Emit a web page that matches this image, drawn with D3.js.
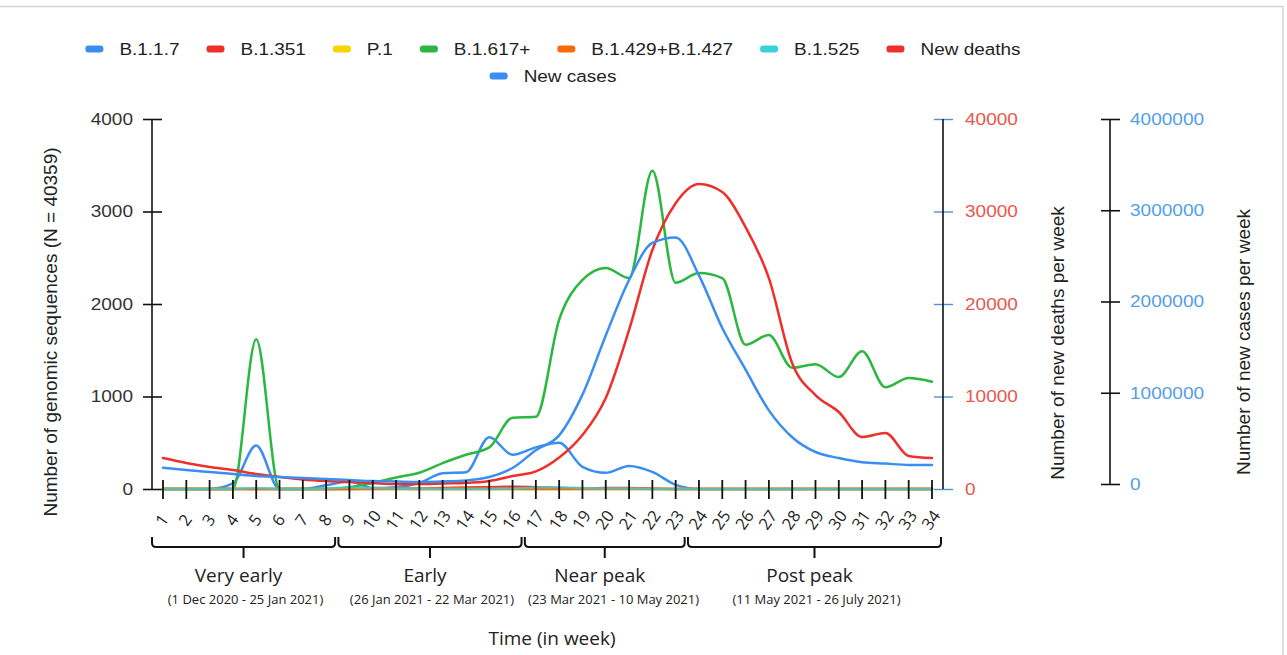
<!DOCTYPE html>
<html>
<head>
<meta charset="utf-8">
<script src="https://cdn.jsdelivr.net/npm/d3@7"></script>
<style>
  html, body { margin: 0; padding: 0; background: #fff; }
  svg { display: block; }
</style>
</head>
<body>
<svg id="chart" width="1287" height="655"></svg>
<script>
// ---------------- DATA ----------------
const weeks = [1,2,3,4,5,6,7,8,9,10,11,12,13,14,15,16,17,18,19,20,21,22,23,24,25,26,27,28,29,30,31,32,33,34];
const seriesNames = ["B.1.1.7","B.1.351","P.1","B.1.617+","B.1.429+B.1.427","B.1.525","New deaths","New cases"];
const seriesColors = ["#3a8ef0","#ef2f2a","#f7d500","#2cb840","#f86a08","#38d3da","#ef2f2a","#3a8ef0"];

const b117    = [0,0,0,60,470,0,0,40,80,10,20,65,170,180,560,370,450,500,240,175,250,185,45,0,0,0,0,0,0,0,0,0,0,0];
const b1351   = [0,0,0,0,0,0,0,0,0,5,5,5,10,15,20,25,20,10,5,10,10,5,0,0,0,0,0,0,0,0,0,0,0,0];
const p1      = [0,0,0,0,0,0,0,0,0,0,0,0,0,0,0,0,0,0,0,0,0,0,0,0,0,0,0,0,0,0,0,0,0,0];
const b1617   = [0,0,0,0,1620,0,0,0,20,65,125,175,280,370,450,770,780,1830,2260,2390,2280,3440,2230,2335,2280,1560,1665,1310,1350,1210,1490,1100,1200,1160];
const b1429   = [0,0,0,0,0,0,0,0,0,0,0,0,0,0,0,0,0,0,0,0,0,0,0,0,0,0,0,0,0,0,0,0,0,0];
const b1525   = [0,0,0,0,10,0,0,5,15,10,5,0,0,0,0,5,15,20,10,5,5,0,0,0,0,0,0,0,0,0,0,0,0,0];
const newDeaths = [3350,2810,2380,2050,1620,1300,1030,860,760,650,540,540,600,650,860,1400,1900,3400,5840,9840,17190,25840,30900,32970,32100,28300,22800,13600,10160,8320,5620,6050,3570,3350];
const newCases  = [230000,205000,184000,162000,140000,130000,119000,108000,97000,86000,81000,76000,81000,92000,130000,227000,420000,580000,1020000,1660000,2260000,2660000,2720000,2310000,1740000,1290000,850000,560000,400000,335000,290000,275000,260000,260000];

const seqTicks = [0,1000,2000,3000,4000];
const deathTicks = [0,10000,20000,30000,40000];
const caseTicks = [0,1000000,2000000,3000000,4000000];

const periodNames = ["Very early","Early","Near peak","Post peak"];
const periodDates = ["(1 Dec 2020 - 25 Jan 2021)","(26 Jan 2021 - 22 Mar 2021)","(23 Mar 2021 - 10 May 2021)","(11 May 2021 - 26 July 2021)"];
const periodStart = [1,9,17,24];
const periodEnd   = [8,16,23,34];

const leftTitle = "Number of genomic sequences (N = 40359)";
const deathTitle = "Number of new deaths per week";
const caseTitle = "Number of new cases per week";
const xTitle = "Time (in week)";

// ---------------- SETUP ----------------
const SX = 1.12;
const FA = "'Liberation Sans', Arial, sans-serif";
const FS = "'Open Sans', 'Noto Sans', sans-serif";
const svg = d3.select("#chart");

svg.append("rect").attr("x",-1).attr("y",6.5).attr("width",1284).attr("height",660)
  .attr("fill","none").attr("stroke","#d4d4d4").attr("stroke-width",1.5);

const x = d3.scaleLinear().domain([1,34]).range([163,932]);
const ySeq = d3.scaleLinear().domain([0,4000]).range([489,119]);
const yDeaths = d3.scaleLinear().domain([0,40000]).range([489,119]);
const yCases = d3.scaleLinear().domain([0,4000000]).range([489,119]);
const yCasesAxis = d3.scaleLinear().domain([0,4000000]).range([484,119]);

// ---------------- AXES ----------------
const gL = svg.append("g").attr("transform","translate(152,0)")
  .call(d3.axisLeft(ySeq).tickValues(seqTicks).tickFormat(d3.format("d")));
gL.select(".domain").remove();
gL.append("line").attr("y1",ySeq(0)).attr("y2",ySeq(4000)).attr("stroke","#111").attr("stroke-width",1.6);
gL.selectAll(".tick line").attr("x1",-9).attr("x2",10).attr("stroke","#111").attr("stroke-width",1.6);
gL.selectAll(".tick text").attr("x",-19/SX).attr("transform",`scale(${SX},1)`)
  .attr("font-family",FA).attr("font-size",17).attr("fill","#333");

const gD = svg.append("g").attr("transform","translate(943,0)")
  .call(d3.axisRight(yDeaths).tickValues(deathTicks).tickFormat(d3.format("d")));
gD.select(".domain").remove();
gD.append("line").attr("y1",yDeaths(0)).attr("y2",yDeaths(40000)).attr("stroke","#111").attr("stroke-width",1.6);
gD.selectAll(".tick line").attr("x1",-9).attr("x2",10).attr("stroke","#4a92dc").attr("stroke-width",1.4);
gD.selectAll(".tick text").attr("x",22/SX).attr("transform",`scale(${SX},1)`)
  .attr("font-family",FA).attr("font-size",17).attr("fill","#e9574c");

const gC = svg.append("g").attr("transform","translate(1110,0)")
  .call(d3.axisRight(yCasesAxis).tickValues(caseTicks).tickFormat(d3.format("d")));
gC.select(".domain").remove();
gC.append("line").attr("y1",yCasesAxis(0)).attr("y2",yCasesAxis(4000000)).attr("stroke","#111").attr("stroke-width",1.6);
gC.selectAll(".tick line").attr("x1",-9).attr("x2",10).attr("stroke","#111").attr("stroke-width",1.6);
gC.selectAll(".tick text").attr("x",20/SX).attr("transform",`scale(${SX},1)`)
  .attr("font-family",FA).attr("font-size",17).attr("fill","#539fe4");

function vtitle(cx, cy, str) {
  svg.append("text").attr("transform",`translate(${cx},${cy}) rotate(-90)`)
    .attr("text-anchor","middle").attr("dy","0.35em")
    .attr("font-family",FA).attr("font-size",19).attr("fill","#222").text(str);
}
vtitle(50, 332, leftTitle);
vtitle(1057, 343, deathTitle);
vtitle(1243, 342, caseTitle);

// ---------------- LINES ----------------
const seqSeries = [b117, b1351, p1, b1617, b1429, b1525];
const lineSeq = d3.line().x((d,i)=>x(weeks[i])).y(d=>ySeq(d)).curve(d3.curveMonotoneX);
const lineDeaths = d3.line().x((d,i)=>x(weeks[i])).y(d=>yDeaths(d)).curve(d3.curveMonotoneX);
const lineCases = d3.line().x((d,i)=>x(weeks[i])).y(d=>yCases(d)).curve(d3.curveMonotoneX);

const gLines = svg.append("g").attr("fill","none").attr("stroke-width",2.5)
  .attr("stroke-linejoin","round").attr("stroke-linecap","round");
seqSeries.forEach((s,i)=>{
  gLines.append("path").attr("d",lineSeq(s)).attr("stroke",seriesColors[i])
    .attr("stroke-opacity", i===5 ? 0.75 : 1);
});
gLines.append("path").attr("d",lineDeaths(newDeaths)).attr("stroke",seriesColors[6]);
gLines.append("path").attr("d",lineCases(newCases)).attr("stroke",seriesColors[7]);

// ---------------- X AXIS TICKS ----------------
const gX = svg.append("g");
gX.selectAll("line.xt").data(weeks).join("line").attr("class","xt")
  .attr("x1",d=>x(d)).attr("x2",d=>x(d)).attr("y1",480).attr("y2",499)
  .attr("stroke","#111").attr("stroke-width",1.8);
gX.selectAll("text.xl").data(weeks).join("text").attr("class","xl")
  .attr("transform",d=>`translate(${x(d)-1},520) rotate(-55)`)
  .attr("text-anchor","middle").attr("dy","0.35em")
  .attr("font-family",FS).attr("font-size",16.5).attr("fill","#222").text(d=>d);

// ---------------- PERIOD BRACKETS ----------------
const gB = svg.append("g");
let prevRight = -Infinity;
periodNames.forEach((name,i)=>{
  const x0 = x(periodStart[i]) - 11, x1 = x(periodEnd[i]) + 9;
  const yT = 537, yB = 547, yS = 558, r = 4;
  const xm = (x0 + x1) / 2;
  const p = `M${x0},${yT} L${x0},${yB-r} Q${x0},${yB} ${x0+r},${yB} L${x1-r},${yB} Q${x1},${yB} ${x1},${yB-r} L${x1},${yT} M${xm},${yB} L${xm},${yS}`;
  gB.append("path").attr("d",p).attr("fill","none").attr("stroke","#111").attr("stroke-width",2);
  gB.append("text").attr("x",xm - 5).attr("y",582).attr("text-anchor","middle")
    .attr("font-family",FS).attr("font-size",19).attr("fill","#222").text(name);
  const st = gB.append("text").attr("y",604).attr("text-anchor","middle")
    .attr("font-family",FS).attr("font-size",13).attr("fill","#222").text(periodDates[i]);
  const w = st.node().getComputedTextLength();
  let cx = xm + 2;
  if (cx - w/2 < prevRight + 14) cx = prevRight + 14 + w/2;
  st.attr("x", cx);
  prevRight = cx + w/2;
});
svg.append("text").attr("x",552).attr("y",645).attr("text-anchor","middle")
  .attr("font-family",FS).attr("font-size",19).attr("fill","#222").text(xTitle);

// ---------------- LEGEND ----------------
const LSX = 1.15;
const gLeg = svg.append("g");
const items = seriesNames.map((n,i)=>{
  const g = gLeg.append("g");
  g.append("rect").attr("x",0).attr("y",-3.5).attr("width",18).attr("height",7).attr("rx",3)
    .attr("fill",seriesColors[i]);
  const t = g.append("text").attr("transform",`translate(34,0) scale(${LSX},1)`).attr("dy","0.35em")
    .attr("font-family",FA).attr("font-size",16.5).attr("fill","#222").text(n);
  const w = 34 + t.node().getComputedTextLength() * LSX;
  return {g, w};
});
const gap = 27, maxW = 1000, centerX = 553, rowY = [49, 76];
let rows = [[]];
items.forEach(it=>{
  const row = rows[rows.length-1];
  const rw = row.reduce((a,b)=>a+b.w,0) + row.length*gap;
  if (row.length && rw + it.w > maxW) rows.push([it]); else row.push(it);
});
rows.forEach((row,ri)=>{
  const tw = row.reduce((a,b)=>a+b.w,0) + (row.length-1)*gap;
  let cx = centerX - tw/2;
  row.forEach(it=>{ it.g.attr("transform",`translate(${cx},${rowY[ri]})`); cx += it.w + gap; });
});
</script>
</body>
</html>
